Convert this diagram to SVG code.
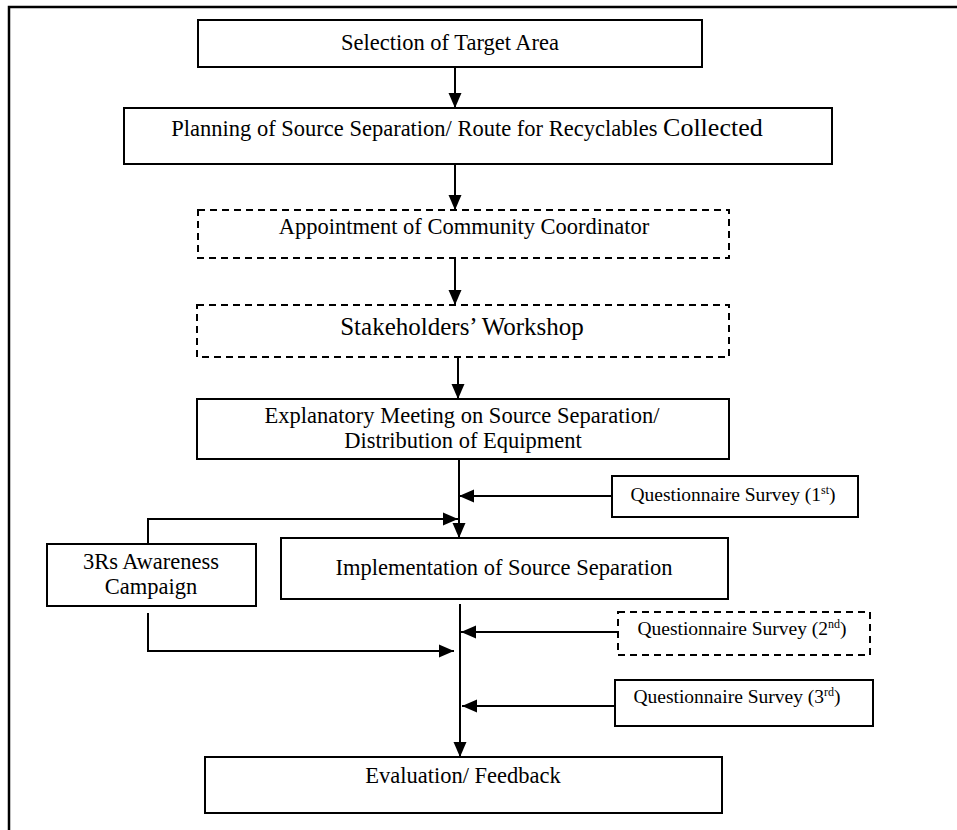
<svg xmlns="http://www.w3.org/2000/svg" width="957" height="830" viewBox="0 0 957 830">
  <style>
    .box { fill: #fff; stroke: #000; stroke-width: 2; }
    .dash { fill: #fff; stroke: #000; stroke-width: 2; stroke-dasharray: 7 5; }
    .lbl { font-family: "Liberation Serif", "Times New Roman", serif; font-size: 22.5px; fill: #000; text-anchor: middle; }
    .sm { font-size: 19.5px; }
    .big { font-size: 25px; }
    .sup { font-size: 12px; }
    .wire { fill: none; stroke: #000; stroke-width: 2; }
  </style>
  <defs>
    <marker id="head" markerWidth="15" markerHeight="14" refX="15" refY="7" orient="auto" markerUnits="userSpaceOnUse">
      <path d="M0,0.5 L15,7 L0,13.5 Z" fill="#000"/>
    </marker>
  </defs>
  <rect width="957" height="830" fill="#fff"/>
  <!-- page frame -->
  <path d="M9,830 V7 H957" fill="none" stroke="#000" stroke-width="2.5"/>

  <g id="connectors">
    <line class="wire" x1="455" y1="67" x2="455" y2="108" marker-end="url(#head)"/>
    <line class="wire" x1="455" y1="164" x2="455" y2="210" marker-end="url(#head)"/>
    <line class="wire" x1="455" y1="258" x2="455" y2="305" marker-end="url(#head)"/>
    <line class="wire" x1="458" y1="357" x2="458" y2="399" marker-end="url(#head)"/>
    <line class="wire" x1="459" y1="459" x2="459" y2="538" marker-end="url(#head)"/>
    <line class="wire" x1="612" y1="496" x2="459" y2="496" marker-end="url(#head)"/>
    <polyline class="wire" points="148,544 148,519 458,519" marker-end="url(#head)"/>
    <line class="wire" x1="460" y1="604" x2="460" y2="757" marker-end="url(#head)"/>
    <polyline class="wire" points="148,613 148,651 454,651" marker-end="url(#head)"/>
    <line class="wire" x1="618" y1="632" x2="461" y2="632" marker-end="url(#head)"/>
    <line class="wire" x1="615" y1="706" x2="462" y2="706" marker-end="url(#head)"/>
  </g>

  <g id="target-area">
    <rect class="box" x="198" y="20" width="504" height="47"/>
    <text class="lbl" x="450" y="50">Selection of Target Area</text>
  </g>
  <g id="planning">
    <rect class="box" x="124" y="108" width="708" height="56"/>
    <text class="lbl" x="467" y="136">Planning of Source Separation/ Route for Recyclables <tspan font-size="26">Collected</tspan></text>
  </g>
  <g id="coordinator">
    <rect class="dash" x="198" y="210" width="531" height="48"/>
    <text class="lbl" x="464" y="234">Appointment of Community Coordinator</text>
  </g>
  <g id="workshop">
    <rect class="dash" x="197" y="305" width="532" height="52"/>
    <text class="lbl big" x="462" y="335">Stakeholders’ Workshop</text>
  </g>
  <g id="explanatory">
    <rect class="box" x="197" y="399" width="532" height="60"/>
    <text class="lbl" x="462" y="423">Explanatory Meeting on Source Separation/</text>
    <text class="lbl" x="463" y="448">Distribution of Equipment</text>
  </g>
  <g id="survey-1">
    <rect class="box" x="612" y="476" width="246" height="41"/>
    <text class="lbl sm" x="733" y="501">Questionnaire Survey (1<tspan class="sup" dy="-7">st</tspan><tspan dy="7">)</tspan></text>
  </g>
  <g id="campaign">
    <rect class="box" x="47" y="544" width="209" height="62"/>
    <text class="lbl" x="151" y="569">3Rs Awareness</text>
    <text class="lbl" x="151" y="594">Campaign</text>
  </g>
  <g id="implementation">
    <rect class="box" x="281" y="538" width="447" height="61"/>
    <text class="lbl" x="504" y="575">Implementation of Source Separation</text>
  </g>
  <g id="survey-2">
    <rect class="dash" x="618" y="612" width="252" height="43"/>
    <text class="lbl sm" x="742" y="635">Questionnaire Survey (2<tspan class="sup" dy="-7">nd</tspan><tspan dy="7">)</tspan></text>
  </g>
  <g id="survey-3">
    <rect class="box" x="615" y="680" width="258" height="46"/>
    <text class="lbl sm" x="737" y="703">Questionnaire Survey (3<tspan class="sup" dy="-7">rd</tspan><tspan dy="7">)</tspan></text>
  </g>
  <g id="evaluation">
    <rect class="box" x="205" y="757" width="517" height="56"/>
    <text class="lbl" x="463" y="783">Evaluation/ Feedback</text>
  </g>
</svg>
